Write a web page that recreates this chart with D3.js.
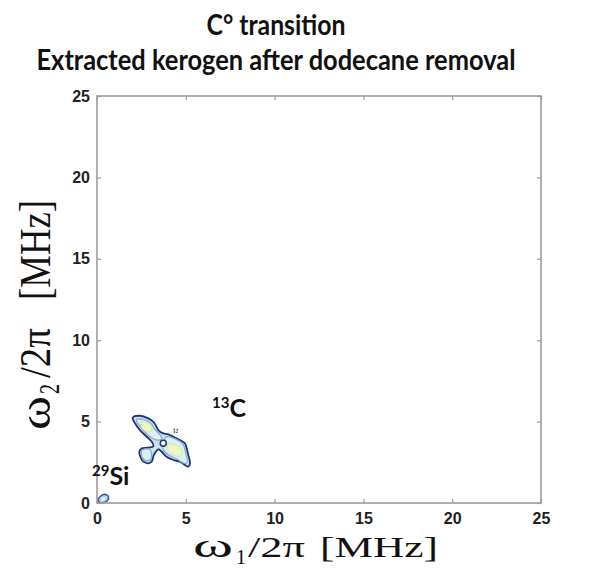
<!DOCTYPE html>
<html>
<head>
<meta charset="utf-8">
<script src="https://cdn.jsdelivr.net/npm/d3@7"></script>
<style>
  body { margin: 0; background: #fff; }
</style>
</head>
<body>
<svg id="chart" width="592" height="580"></svg>
<script>
// 1. Data (MHz)
const xTicks = [0, 5, 10, 15, 20, 25]
const yTicks = [0, 5, 10, 15, 20, 25]
const titleLines = ["C\u00b0 transition", "Extracted kerogen after dodecane removal"]

// outermost contour of the 13C cross peak, [w1, w2]
const carbonOuter = [
    [2.01, 5.24], [2.42, 5.36], [2.89, 5.20], [3.17, 4.99], [3.32, 4.75], [3.45, 4.48],
    [3.73, 4.28], [4.01, 4.22], [4.30, 4.07], [4.67, 3.87], [4.95, 3.67], [5.05, 3.36],
    [5.14, 2.95], [5.24, 2.44], [5.14, 2.23], [4.95, 2.33], [4.67, 2.54], [4.30, 2.64],
    [3.92, 2.84], [3.64, 3.15], [3.45, 3.30], [3.20, 2.95], [3.08, 2.54], [2.89, 2.44],
    [2.61, 2.54], [2.46, 2.78], [2.38, 3.15], [2.52, 3.36], [2.89, 3.40], [3.17, 3.48],
    [3.08, 3.77], [2.80, 4.07], [2.42, 4.48], [2.14, 4.90]
]
// second level, three pieces (left wing, right wing, lower lobe)
const carbonMid = [
    [[2.22, 5.13], [2.70, 5.10], [3.05, 4.88], [3.25, 4.52], [3.55, 4.18], [3.66, 3.96],
     [3.40, 3.86], [3.00, 4.05], [2.62, 4.45], [2.32, 4.85]],
    [[3.90, 4.06], [4.40, 3.94], [4.85, 3.60], [4.98, 3.10], [5.08, 2.48], [4.90, 2.44],
     [4.50, 2.70], [4.02, 2.96], [3.72, 3.30], [3.76, 3.72]],
    [[2.55, 3.26], [2.95, 3.30], [3.08, 3.00], [2.98, 2.64], [2.70, 2.62], [2.52, 2.86]]
]
// innermost level
const carbonCore = [
    [[2.45, 4.98], [2.88, 4.88], [3.08, 4.62], [3.00, 4.36], [2.72, 4.40], [2.48, 4.70]],
    [[3.98, 3.62], [4.48, 3.56], [4.80, 3.22], [4.72, 2.88], [4.32, 2.95], [4.00, 3.25]]
]
const siliconOuter = [
    [0.17, 0.02], [0.07, 0.18], [0.21, 0.43], [0.45, 0.53], [0.64, 0.39], [0.58, 0.14], [0.35, 0.02]
]
const siliconCore = [
    [0.22, 0.12], [0.20, 0.26], [0.32, 0.38], [0.48, 0.36], [0.48, 0.18], [0.34, 0.10]
]
const holes = [[3.73, 3.67]]
const specks = [[4.35, 4.52], [4.52, 4.50], [4.36, 4.36], [4.50, 4.34]]
const peakLabels = [
    { sup: "13", base: "C", w1: 6.48, w2: 5.28 },
    { sup: "29", base: "Si", w1: -0.28, w2: 1.11 }
]

// 2. Scales
const svg = d3.select("#chart")
const x = d3.scaleLinear().domain([0, 25]).range([97, 541])
const y = d3.scaleLinear().domain([0, 25]).range([503, 96])

const outline = d3.line()
    .x(d => x(d[0]))
    .y(d => y(d[1]))
    .curve(d3.curveCatmullRomClosed.alpha(0.5))

// 3. Title
svg.selectAll(".title")
    .data(titleLines)
    .join("text")
    .attr("class", "title")
    .attr("x", 276)
    .attr("y", (d, i) => 35 + i * 35)
    .attr("text-anchor", "middle")
    .attr("textLength", (d, i) => i == 0 ? 139 : 479)
    .attr("lengthAdjust", "spacingAndGlyphs")
    .style("font-family", "Lato, 'Open Sans', sans-serif")
    .style("font-weight", "bold")
    .style("font-size", "29px")
    .style("fill", "#111")
    .text(d => d)

// 4. Contours
const plot = svg.append("g")

plot.append("path")
    .attr("d", outline(carbonOuter))
    .attr("fill", "#c9e3ef")
    .attr("stroke", "#22356e")
    .attr("stroke-width", 1.8)

plot.selectAll(".mid")
    .data(carbonMid)
    .join("path")
    .attr("class", "mid")
    .attr("d", outline)
    .attr("fill", "#dcf0f2")
    .attr("stroke", "#86a5d2")
    .attr("stroke-width", 1.2)

plot.selectAll(".core")
    .data(carbonCore)
    .join("path")
    .attr("class", "core")
    .attr("d", outline)
    .attr("fill", "#eef6c2")
    .attr("stroke", "#cfe6b8")
    .attr("stroke-width", 1)

plot.selectAll(".hole")
    .data(holes)
    .join("circle")
    .attr("class", "hole")
    .attr("cx", d => x(d[0]))
    .attr("cy", d => y(d[1]))
    .attr("r", 3)
    .attr("fill", "#fff")
    .attr("stroke", "#22356e")
    .attr("stroke-width", 1.5)

plot.selectAll(".speck")
    .data(specks)
    .join("circle")
    .attr("class", "speck")
    .attr("cx", d => x(d[0]))
    .attr("cy", d => y(d[1]))
    .attr("r", 0.9)
    .attr("fill", "#556")

plot.append("path")
    .attr("d", outline(siliconOuter))
    .attr("fill", "#c9e3ef")
    .attr("stroke", "#3a5a9a")
    .attr("stroke-width", 1.6)

plot.append("path")
    .attr("d", outline(siliconCore))
    .attr("fill", "#e4f2ee")
    .attr("stroke", "#9ab8d8")
    .attr("stroke-width", 0.8)

// 5. Axes (box with inward ticks)
const axisColor = "#9c9c9c"
const tickStyle = g => {
    g.select(".domain").remove()
    g.selectAll(".tick line").attr("stroke", axisColor).attr("stroke-width", 1.2)
    g.selectAll(".tick text")
        .style("font-family", "'Liberation Sans', Arial, sans-serif")
        .style("font-weight", "bold")
        .style("font-size", "16px")
        .style("fill", "#222")
}

svg.append("g")
    .attr("transform", "translate(0,503)")
    .call(d3.axisBottom(x).tickValues(xTicks).tickSize(-4).tickPadding(10))
    .call(tickStyle)

svg.append("g")
    .attr("transform", "translate(97,0)")
    .call(d3.axisLeft(y).tickValues(yTicks).tickSize(-4).tickPadding(7))
    .call(tickStyle)

svg.append("g")
    .attr("transform", "translate(0,96)")
    .call(d3.axisTop(x).tickValues(xTicks).tickSize(-4).tickFormat(""))
    .call(tickStyle)

svg.append("g")
    .attr("transform", "translate(541,0)")
    .call(d3.axisRight(y).tickValues(yTicks).tickSize(-4).tickFormat(""))
    .call(tickStyle)

svg.append("rect")
    .attr("x", x(0))
    .attr("y", y(25))
    .attr("width", x(25) - x(0))
    .attr("height", y(0) - y(25))
    .attr("fill", "none")
    .attr("stroke", axisColor)
    .attr("stroke-width", 1.6)

// 6. Peak labels
const lab = svg.selectAll(".peak")
    .data(peakLabels)
    .join("text")
    .attr("class", "peak")
    .attr("x", d => x(d.w1))
    .attr("y", d => y(d.w2))
    .style("font-family", "Lato, 'Open Sans', sans-serif")
    .style("font-weight", "bold")
    .style("fill", "#111")
lab.append("tspan")
    .style("font-size", "15px")
    .attr("dy", -9)
    .text(d => d.sup)
lab.append("tspan")
    .style("font-size", "25px")
    .attr("dy", 9)
    .text(d => d.base)

// 7. Axis titles (LaTeX-like, stretched as in the picture)
const serif = "'Liberation Serif', 'Times New Roman', serif"
const xLabel = svg.append("text")
    .attr("y", 557)
    .style("font-family", serif)
    .style("font-size", "30px")
    .style("fill", "#111")
xLabel.append("tspan").attr("x", 193).attr("textLength", 40)
    .attr("lengthAdjust", "spacingAndGlyphs").style("font-size", "33px").text("\u03c9")
xLabel.append("tspan").attr("x", 236).attr("dy", 7).style("font-size", "20px").text("1")
xLabel.append("tspan").attr("x", 248).attr("dy", -7).attr("textLength", 57)
    .attr("lengthAdjust", "spacingAndGlyphs").text("/2\u03c0")
xLabel.append("tspan").attr("x", 320).attr("textLength", 118)
    .attr("lengthAdjust", "spacingAndGlyphs").text("[MHz]")

const yLabel = svg.append("text")
    .attr("transform", "translate(50,0) scale(1.5,1) rotate(-90)")
    .style("font-family", serif)
    .style("font-size", "30px")
    .style("fill", "#111")
yLabel.append("tspan").attr("x", -430).attr("textLength", 34)
    .attr("lengthAdjust", "spacingAndGlyphs").text("\u03c9")
yLabel.append("tspan").attr("x", -394).attr("dy", 6).style("font-size", "20px").text("2")
yLabel.append("tspan").attr("x", -378).attr("dy", -6).attr("textLength", 50)
    .attr("lengthAdjust", "spacingAndGlyphs").text("/2\u03c0")
yLabel.append("tspan").attr("x", -300).attr("textLength", 100)
    .attr("lengthAdjust", "spacingAndGlyphs").text("[MHz]")
</script>
</body>
</html>
